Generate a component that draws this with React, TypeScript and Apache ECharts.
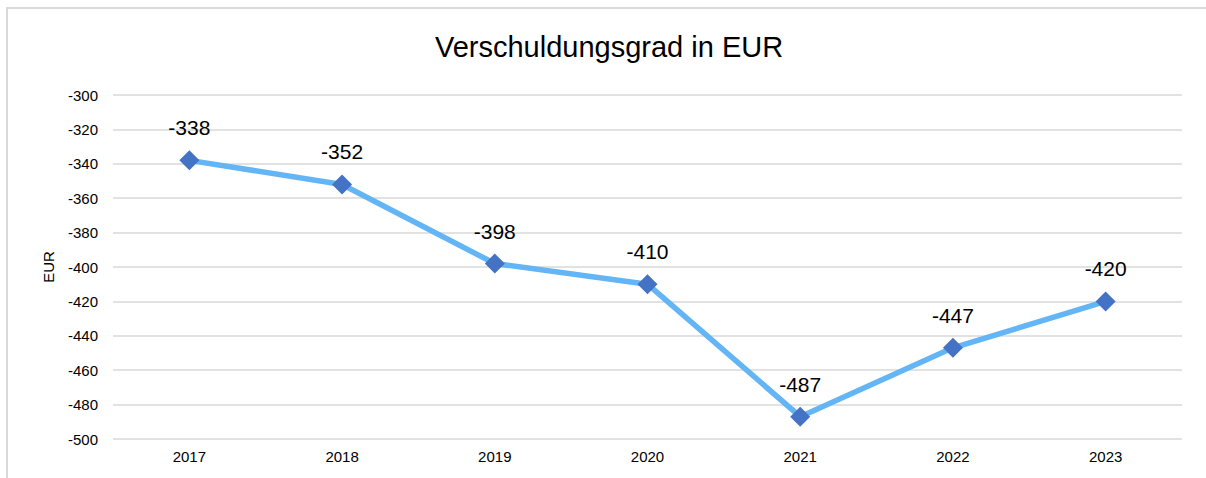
import React, { useEffect, useRef } from "react";
import * as echarts from "echarts";

const years = ["2017", "2018", "2019", "2020", "2021", "2022", "2023"];
const values = [-338, -352, -398, -410, -487, -447, -420];
const title = "Verschuldungsgrad in EUR";
const yName = "EUR";

export default function App() {
  const ref = useRef<HTMLDivElement>(null);
  useEffect(() => {
    const chart = echarts.init(ref.current!, null, { renderer: "svg" });
    const font = "Liberation Sans, Arial";
    chart.setOption({
      animation: false,
      backgroundColor: "#ffffff",
      title: {
        text: title,
        left: 604,
        top: 27,
        textAlign: "center",
        textStyle: { fontFamily: font, fontSize: 29, fontWeight: "normal", color: "#000" },
      },
      graphic: [
        {
          type: "rect",
          shape: { x: 7, y: 8, width: 1400, height: 700 },
          style: { fill: "none", stroke: "#d9d9d9", lineWidth: 2 },
          silent: true,
        },
      ],
      grid: { left: 113, right: 24, top: 95, bottom: 39 },
      xAxis: {
        type: "category",
        data: years,
        boundaryGap: true,
        axisLine: { show: false },
        axisTick: { show: false },
        axisLabel: { color: "#000", fontSize: 15, fontFamily: font, margin: 10 },
      },
      yAxis: {
        type: "value",
        min: -500,
        max: -300,
        interval: 20,
        name: yName,
        nameLocation: "middle",
        nameGap: 57,
        nameRotate: 90,
        nameTextStyle: { color: "#000", fontSize: 15, fontFamily: font },
        axisLine: { show: false },
        axisTick: { show: false },
        axisLabel: { color: "#000", fontSize: 15, fontFamily: font, margin: 15 },
        splitLine: { lineStyle: { color: "#d9d9d9", width: 1.5 } },
      },
      series: [
        {
          type: "line",
          data: values,
          lineStyle: { color: "#63b5f6", width: 5.5 },
          symbol: "diamond",
          symbolSize: 20,
          itemStyle: { color: "#4472c4" },
          label: {
            show: true,
            position: "top",
            distance: 12,
            color: "#000",
            fontSize: 21,
            fontFamily: font,
          },
        },
      ],
    });
    return () => chart.dispose();
  }, []);
  return <div ref={ref} style={{ position: "absolute", left: 0, top: 0, width: 1206, height: 478 }} />;
}
